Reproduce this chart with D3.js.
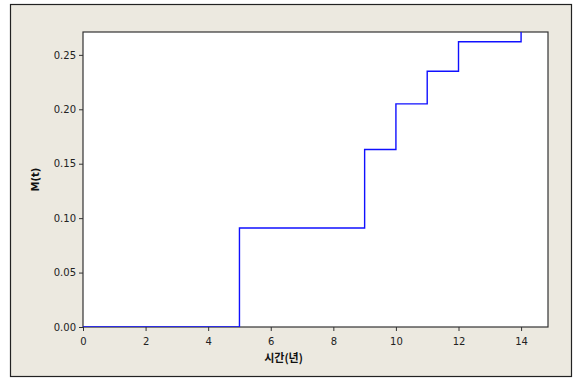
<!DOCTYPE html>
<html><head><meta charset="utf-8">
<script src="https://cdn.jsdelivr.net/npm/d3@7"></script>
<style>body{margin:0;background:#fff;}svg{display:block;}</style>
</head><body>
<script>
const times = [0, 5, 9, 10, 11, 12, 14];
const values = [0, 0.091, 0.163, 0.205, 0.235, 0.262, 0.30];
const xTicks = [0, 2, 4, 6, 8, 10, 12, 14];
const yTicks = [0, 0.05, 0.10, 0.15, 0.20, 0.25];
const xTitle = "시간(년)";
const yTitle = "M(t)";

const W = 580, H = 380;
const svg = d3.select("body").append("svg").attr("width", W).attr("height", H);
svg.append("rect").attr("x",0).attr("y",0).attr("width",W).attr("height",H).attr("fill","#fff");
svg.append("rect").attr("x",10.5).attr("y",4.5).attr("width",561).attr("height",372)
  .attr("fill","#ECE9E0").attr("stroke","#222").attr("stroke-width",1.2);

const L = 83, R = 548, T = 32, B = 327;
const x = d3.scaleLinear().domain([0, 14.86]).range([L, R]);
const y = d3.scaleLinear().domain([0, 0.271]).range([B, T]);

svg.append("rect").attr("x",L).attr("y",T).attr("width",R-L).attr("height",B-T)
  .attr("fill","#fff").attr("stroke","#333").attr("stroke-width",1.2);

svg.append("defs").append("clipPath").attr("id","c").append("rect")
  .attr("x",L).attr("y",T).attr("width",R-L).attr("height",B-T);

const pts = times.map((t,i)=>[t, values[i]]);
const line = d3.line().x(d=>x(d[0])).y(d=>y(d[1])).curve(d3.curveStepAfter);
svg.append("path").attr("clip-path","url(#c)").datum(pts).attr("d", line)
  .attr("fill","none").attr("stroke","#1010ff").attr("stroke-width",1.4);

const font = "DejaVu Sans, Arial, sans-serif";
const xa = svg.append("g").attr("transform",`translate(0,${B})`)
  .call(d3.axisBottom(x).tickValues(xTicks).tickSize(4).tickSizeOuter(0).tickFormat(d3.format("d")));
const ya = svg.append("g").attr("transform",`translate(${L},0)`)
  .call(d3.axisLeft(y).tickValues(yTicks).tickSize(4).tickSizeOuter(0).tickFormat(d3.format(".2f")));
[xa, ya].forEach(a=>{
  a.select(".domain").remove();
  a.selectAll("line").attr("stroke","#333");
  a.selectAll("text").attr("fill","#222").style("font-family",font).style("font-size","10px");
});
xa.selectAll("text").attr("dy","1.1em");

svg.append("text").attr("x", (L+R)/2 - 32).attr("y", 362).attr("text-anchor","middle")
  .style("font-family","Noto Sans CJK KR, sans-serif").style("font-size","11px").style("font-weight","bold")
  .attr("fill","#111").text(xTitle);
svg.append("text").attr("transform",`translate(39,${(T+B)/2}) rotate(-90)`).attr("text-anchor","middle")
  .style("font-family",font).style("font-size","10px").style("font-weight","bold")
  .attr("fill","#111").text(yTitle);
</script>
</body></html>
